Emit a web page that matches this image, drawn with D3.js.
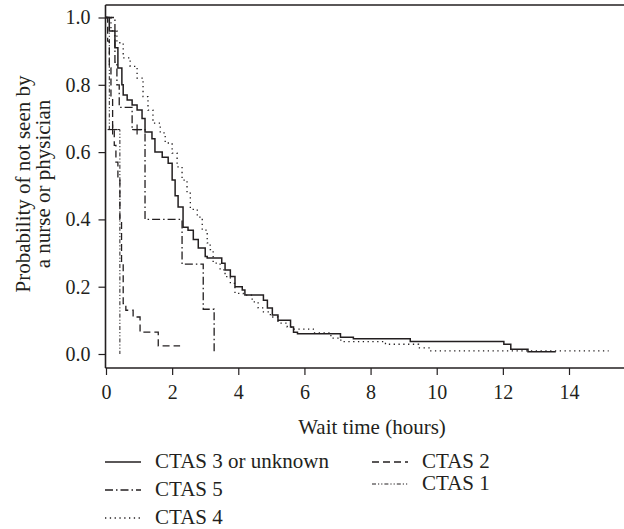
<!DOCTYPE html>
<html>
<head>
<meta charset="utf-8">
<script src="https://cdn.jsdelivr.net/npm/d3@7"></script>
<style>
  html, body { margin: 0; padding: 0; background: #fff; }
  svg { display: block; }
  text { font-family: "Liberation Serif", "DejaVu Serif", serif; fill: #231f20; }
</style>
</head>
<body>
<svg id="chart" width="624" height="529"></svg>
<script>
// ---- Data ----
const xTicks = [0, 2, 4, 6, 8, 10, 12, 14];
const yTicks = [0.0, 0.2, 0.4, 0.6, 0.8, 1.0];

const seriesNames = ["CTAS 3 or unknown", "CTAS 5", "CTAS 4", "CTAS 2", "CTAS 1"];

const ctas3Time = [0, 0.10, 0.27, 0.36, 0.48, 0.52, 0.64, 0.79, 0.94, 1.09, 1.18, 1.39, 1.48, 1.70, 1.88, 2.00, 2.09, 2.18, 2.33, 2.48, 2.64, 2.79, 3.00, 3.06, 3.50, 3.60, 3.76, 3.90, 4.12, 4.20, 4.76, 4.88, 5.03, 5.20, 5.58, 5.67, 5.79, 7.09, 7.48, 9.20, 12.03, 12.24, 12.76, 13.60];
const ctas3Surv = [1, 0.96, 0.91, 0.85, 0.80, 0.77, 0.755, 0.74, 0.725, 0.70, 0.66, 0.64, 0.60, 0.585, 0.567, 0.517, 0.47, 0.437, 0.377, 0.368, 0.34, 0.315, 0.29, 0.285, 0.27, 0.25, 0.23, 0.20, 0.19, 0.175, 0.16, 0.137, 0.116, 0.10, 0.08, 0.065, 0.06, 0.05, 0.045, 0.037, 0.029, 0.014, 0.007, 0.007];

const ctas4Time = [0, 0.15, 0.33, 0.52, 0.73, 0.94, 1.12, 1.27, 1.42, 1.64, 1.79, 2.00, 2.15, 2.30, 2.45, 2.55, 2.76, 2.91, 3.06, 3.15, 3.24, 3.45, 3.60, 3.76, 3.90, 4.15, 4.42, 4.60, 4.76, 4.97, 5.20, 5.48, 5.64, 6.27, 6.80, 7.10, 8.45, 9.45, 9.80, 15.2];
const ctas4Surv = [1, 0.96, 0.925, 0.88, 0.855, 0.82, 0.765, 0.725, 0.686, 0.657, 0.627, 0.597, 0.556, 0.517, 0.478, 0.43, 0.407, 0.368, 0.33, 0.31, 0.27, 0.25, 0.23, 0.21, 0.18, 0.175, 0.155, 0.137, 0.125, 0.11, 0.092, 0.08, 0.074, 0.063, 0.047, 0.037, 0.029, 0.018, 0.009, 0.009];

const ctas5Time = [0, 0.27, 0.33, 0.40, 0.79, 1.18, 2.30, 2.94, 3.27];
const ctas5Surv = [1, 0.867, 0.80, 0.733, 0.667, 0.40, 0.267, 0.133, 0];
const ctas5CensorTime = [0.94];
const ctas5CensorSurv = [0.667];

const ctas2Time = [0, 0.05, 0.10, 0.15, 0.20, 0.25, 0.30, 0.36, 0.42, 0.47, 0.52, 0.60, 0.82, 1.03, 1.58, 2.24];
const ctas2Surv = [1, 0.93, 0.85, 0.76, 0.67, 0.62, 0.57, 0.52, 0.40, 0.27, 0.15, 0.13, 0.11, 0.065, 0.024, 0.024];

const ctas1Time = [0, 0.10, 0.42];
const ctas1Surv = [1, 0.667, 0];
const ctas1CensorTime = [0.20];
const ctas1CensorSurv = [0.667];

// ---- Layout ----
const svg = d3.select("#chart");
const ink = "#231f20";
const x = d3.scaleLinear().domain([0, 14]).range([106, 569]);
const y = d3.scaleLinear().domain([0, 1]).range([354, 17.5]);
const frameLeft = 105.5, frameTop = 5, frameBottom = 368, frameRight = 624;

// frame: top, left, bottom
svg.append("line").attr("x1", frameLeft).attr("x2", frameRight).attr("y1", frameTop).attr("y2", frameTop)
  .attr("stroke", ink).attr("stroke-width", 1.6);
svg.append("line").attr("x1", frameLeft).attr("x2", frameLeft).attr("y1", frameTop).attr("y2", frameBottom)
  .attr("stroke", ink).attr("stroke-width", 1.6);

// x axis
const xAxis = d3.axisBottom(x).tickValues(xTicks).tickSize(7).tickPadding(10).tickFormat(d3.format("d"));
const gx = svg.append("g").attr("transform", `translate(0,${frameBottom})`).call(xAxis);
gx.select(".domain").remove();
gx.append("line").attr("x1", frameLeft).attr("x2", frameRight).attr("y1", 0).attr("y2", 0)
  .attr("stroke", ink).attr("stroke-width", 1.6);
gx.selectAll(".tick line").attr("stroke", ink).attr("stroke-width", 1.2);
gx.selectAll(".tick text").attr("font-size", 20).attr("fill", ink)
  .attr("font-family", "Liberation Serif, serif");

// y axis
const yAxis = d3.axisLeft(y).tickValues(yTicks).tickSize(7).tickPadding(8).tickFormat(d3.format(".1f"));
const gy = svg.append("g").attr("transform", `translate(${frameLeft},0)`).call(yAxis);
gy.select(".domain").remove();
gy.selectAll(".tick line").attr("stroke", ink).attr("stroke-width", 1.2);
gy.selectAll(".tick text").attr("font-size", 20).attr("fill", ink)
  .attr("font-family", "Liberation Serif, serif");

// axis titles
svg.append("text").attr("x", 372).attr("y", 434).attr("text-anchor", "middle")
  .attr("font-size", 21).text("Wait time (hours)");
const yl = svg.append("text").attr("transform", "translate(0,184) rotate(-90)")
  .attr("text-anchor", "middle").attr("font-size", 21);
yl.append("tspan").attr("x", 0).attr("y", 30).text("Probability of not seen by");
yl.append("tspan").attr("x", 0).attr("y", 50).text("a nurse or physician");

// ---- curves ----
const styles = {
  "CTAS 3 or unknown": { dash: null, width: 1.5 },
  "CTAS 5": { dash: "8,3,1.5,3", width: 1.3 },
  "CTAS 4": { dash: "1.3,3.5", width: 1.3 },
  "CTAS 2": { dash: "7,4", width: 1.3 },
  "CTAS 1": { dash: "4,2,1.2,2,1.2,2", width: 1.0 }
};
const series = [
  { name: "CTAS 3 or unknown", t: ctas3Time, s: ctas3Surv },
  { name: "CTAS 4", t: ctas4Time, s: ctas4Surv },
  { name: "CTAS 5", t: ctas5Time, s: ctas5Surv, ct: ctas5CensorTime, cs: ctas5CensorSurv },
  { name: "CTAS 2", t: ctas2Time, s: ctas2Surv },
  { name: "CTAS 1", t: ctas1Time, s: ctas1Surv, ct: ctas1CensorTime, cs: ctas1CensorSurv }
];
const line = d3.line().x(d => x(d[0])).y(d => y(d[1])).curve(d3.curveStepAfter);
series.forEach(sr => {
  const pts = sr.t.map((t, i) => [t, sr.s[i]]);
  const st = styles[sr.name];
  svg.append("path").attr("d", line(pts)).attr("fill", "none")
    .attr("stroke", ink).attr("stroke-width", st.width)
    .attr("stroke-dasharray", st.dash).attr("stroke-linecap", "butt");
  if (sr.ct) {
    sr.ct.forEach((t, i) => {
      const cx = x(t), cy = y(sr.cs[i]);
      svg.append("line").attr("x1", cx - 5).attr("x2", cx + 5).attr("y1", cy).attr("y2", cy)
        .attr("stroke", ink).attr("stroke-width", 1.2);
      svg.append("line").attr("x1", cx).attr("x2", cx).attr("y1", cy - 5).attr("y2", cy + 5)
        .attr("stroke", ink).attr("stroke-width", 1.2);
    });
  }
});

// ---- legend ----
const legendItems = [
  { name: "CTAS 3 or unknown", lx: 105, ly: 462, ty: 468 },
  { name: "CTAS 5", lx: 105, ly: 490, ty: 496 },
  { name: "CTAS 4", lx: 105, ly: 518, ty: 524 },
  { name: "CTAS 2", lx: 372, ly: 462, ty: 468 },
  { name: "CTAS 1", lx: 372, ly: 484, ty: 490 }
];
legendItems.forEach(it => {
  const st = styles[it.name];
  svg.append("line").attr("x1", it.lx).attr("x2", it.lx + 36).attr("y1", it.ly).attr("y2", it.ly)
    .attr("stroke", ink).attr("stroke-width", st.width).attr("stroke-dasharray", st.dash);
  svg.append("text").attr("x", it.lx + 50).attr("y", it.ty).attr("font-size", 21).text(it.name);
});
</script>
</body>
</html>
